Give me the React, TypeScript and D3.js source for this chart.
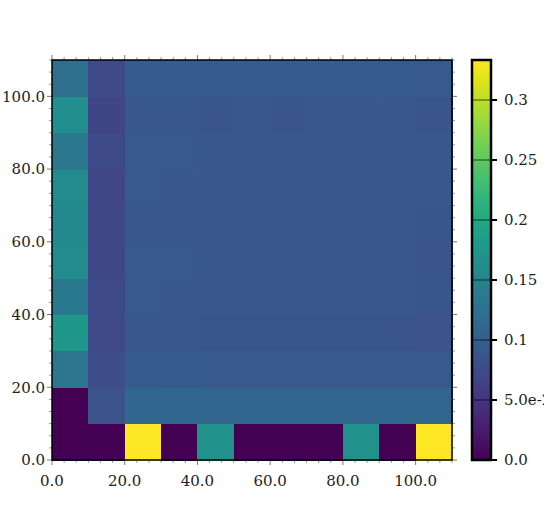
import React from "react";
import * as d3 from "d3";

// bin left edges (both axes), 10 units wide
const xBins = [0, 10, 20, 30, 40, 50, 60, 70, 80, 90, 100];
const yBins = [0, 10, 20, 30, 40, 50, 60, 70, 80, 90, 100];

// cell values, one array per row from the bottom (y = 0) up
const row00 = [0, 0, 0.333, 0, 0.167, 0, 0, 0, 0.167, 0, 0.333];
const row10 = [0, 0.084, 0.109, 0.109, 0.108, 0.108, 0.108, 0.108, 0.108, 0.108, 0.108];
const row20 = [0.13, 0.079, 0.094, 0.093, 0.092, 0.092, 0.092, 0.092, 0.092, 0.092, 0.092];
const row30 = [0.177, 0.072, 0.091, 0.09, 0.089, 0.089, 0.089, 0.089, 0.089, 0.088, 0.084];
const row40 = [0.134, 0.074, 0.092, 0.091, 0.09, 0.09, 0.09, 0.09, 0.09, 0.09, 0.089];
const row50 = [0.158, 0.071, 0.092, 0.092, 0.09, 0.09, 0.09, 0.09, 0.09, 0.09, 0.088];
const row60 = [0.157, 0.071, 0.091, 0.091, 0.09, 0.09, 0.09, 0.09, 0.09, 0.09, 0.089];
const row70 = [0.16, 0.07, 0.092, 0.091, 0.09, 0.09, 0.09, 0.09, 0.09, 0.09, 0.09];
const row80 = [0.132, 0.074, 0.092, 0.092, 0.091, 0.091, 0.091, 0.091, 0.091, 0.091, 0.09];
const row90 = [0.165, 0.068, 0.091, 0.091, 0.088, 0.09, 0.088, 0.09, 0.09, 0.09, 0.088];
const row100 = [0.12, 0.075, 0.096, 0.096, 0.095, 0.095, 0.095, 0.094, 0.094, 0.093, 0.092];
const rows = [row00, row10, row20, row30, row40, row50, row60, row70, row80, row90, row100];

const axisTicks = [0, 20, 40, 60, 80, 100];
const cbTicks = [0, 0.05, 0.1, 0.15, 0.2, 0.25, 0.3];
const cbLabels = ["0.0", "5.0e-2", "0.1", "0.15", "0.2", "0.25", "0.3"];
const vMax = 1 / 3;

const FONT = "'DejaVu Serif', serif";

export default function App() {
  const x = d3.scaleLinear().domain([0, 110]).range([52, 452]);
  const y = d3.scaleLinear().domain([0, 110]).range([460, 60]);
  const color = d3.scaleSequential(d3.interpolateViridis).domain([0, vMax]);
  const cb = d3.scaleLinear().domain([0, vMax]).range([460, 60]);

  const cells = rows.flatMap((vals, j) =>
    vals.map((v, i) => ({ x0: xBins[i], y0: yBins[j], v }))
  );

  // minor ticks: 6 per major interval
  const minor = d3.range(0, 110.001, 20 / 6).filter(
    (t) => Math.abs(t / 20 - Math.round(t / 20)) > 1e-6
  );

  const stops = d3.range(0, 1.0001, 0.05);
  const [x0, x1] = x.range();
  const [yb, yt] = y.range();

  return (
    <svg
      width={544}
      height={512}
      style={{ position: "absolute", left: 0, top: 0, background: "#fff" }}
      fontFamily={FONT}
    >
      <defs>
        <linearGradient id="cbgrad" x1="0" y1="1" x2="0" y2="0">
          {stops.map((s) => (
            <stop key={s} offset={s} stopColor={d3.interpolateViridis(s)} />
          ))}
        </linearGradient>
      </defs>

      {/* heatmap cells */}
      <g shapeRendering="crispEdges">
        {cells.map((c, k) => (
          <rect
            key={k}
            x={x(c.x0)}
            y={y(c.y0 + 10)}
            width={x(c.x0 + 10) - x(c.x0) + 0.5}
            height={y(c.y0) - y(c.y0 + 10) + 0.5}
            fill={color(c.v)}
          />
        ))}
      </g>

      {/* minor ticks on all sides */}
      <g stroke="#999" strokeWidth={1}>
        {minor.map((t) => (
          <g key={"m" + t}>
            <line x1={x(t)} x2={x(t)} y1={yb} y2={yb + 3} />
            <line x1={x(t)} x2={x(t)} y1={yt} y2={yt - 3} />
            <line x1={x0} x2={x0 - 3} y1={y(t)} y2={y(t)} />
            <line x1={x1} x2={x1 + 3} y1={y(t)} y2={y(t)} />
          </g>
        ))}
      </g>
      <g stroke="#777" strokeWidth={1}>
        {axisTicks.map((t) => (
          <g key={"M" + t}>
            <line x1={x(t)} x2={x(t)} y1={yb} y2={yb + 5} />
            <line x1={x(t)} x2={x(t)} y1={yt} y2={yt - 5} />
            <line x1={x0} x2={x0 - 5} y1={y(t)} y2={y(t)} />
            <line x1={x1} x2={x1 + 5} y1={y(t)} y2={y(t)} />
          </g>
        ))}
      </g>

      {/* frame */}
      <rect x={x0} y={yt} width={x1 - x0} height={yb - yt} fill="none" stroke="#000" strokeWidth={1.5} />

      {/* tick labels */}
      <g fontSize={15} fill="#222">
        {axisTicks.map((t) => (
          <text key={"xl" + t} x={x(t)} y={486} textAnchor="middle">
            {t.toFixed(1)}
          </text>
        ))}
        {axisTicks.map((t) => (
          <text key={"yl" + t} x={45} y={y(t)} dy="0.35em" textAnchor="end">
            {t.toFixed(1)}
          </text>
        ))}
      </g>

      {/* colorbar */}
      <rect x={472} y={cb(vMax)} width={19} height={cb(0) - cb(vMax)} fill="url(#cbgrad)" />
      {cbTicks.map((t, i) => (
        <g key={"cb" + t}>
          <line x1={472} x2={491} y1={cb(t)} y2={cb(t)} stroke="#000" strokeOpacity={0.45} strokeWidth={1.5} />
          <line x1={491} x2={497} y1={cb(t)} y2={cb(t)} stroke="#000" strokeWidth={2} />
          <text x={504} y={cb(t)} dy="0.35em" fontSize={15} fill="#222">
            {cbLabels[i]}
          </text>
        </g>
      ))}
      <rect x={472} y={cb(vMax)} width={19} height={cb(0) - cb(vMax)} fill="none" stroke="#000" strokeWidth={2.5} />
    </svg>
  );
}
